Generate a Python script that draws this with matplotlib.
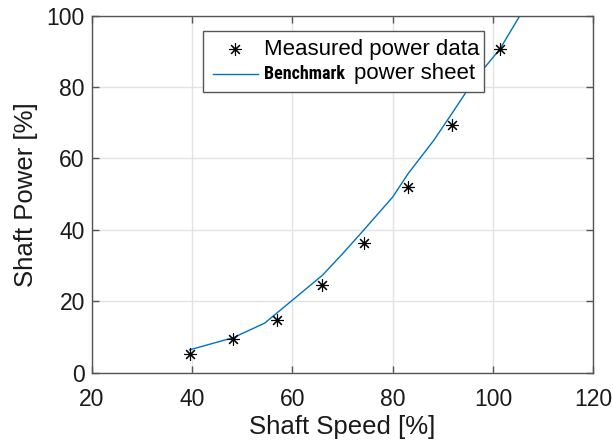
import matplotlib
matplotlib.use('Agg')
import matplotlib.pyplot as plt
from matplotlib import font_manager
from matplotlib.lines import Line2D
from matplotlib.offsetbox import AnchoredOffsetbox, DrawingArea, TextArea, HPacker, VPacker

# measured points
meas_speed = [39.5, 48.2, 56.9, 66.0, 74.2, 83.1, 91.9, 101.4]
meas_power = [5.3, 9.3, 14.9, 24.7, 36.3, 51.9, 69.5, 90.7]

# benchmark power sheet curve
bench_speed = [39.5, 48.2, 54.5, 60.0, 66.0, 70.0, 74.2, 80.0, 83.1, 88.2, 92.0, 96.0, 101.4, 106.0]
bench_power = [6.4, 9.8, 13.9, 20.3, 27.3, 33.3, 39.9, 49.2, 55.8, 65.1, 73.0, 81.5, 90.7, 101.5]

x_ticks = [20, 40, 60, 80, 100, 120]
y_ticks = [0, 20, 40, 60, 80, 100]

MARKER = (8, 2, 0)
LINE_COLOR = '#0072BD'
EDGE = '#555555'

# pick a narrow face for the pasted "Benchmark" word if one is there
installed = set(f.name for f in font_manager.fontManager.ttflist)
narrow, narrow_size = 'Liberation Sans', 11.2
for name in ['Liberation Sans Narrow', 'Roboto Condensed', 'DejaVu Sans Condensed', 'Open Sans Condensed']:
    if name in installed:
        narrow, narrow_size = name, 13
        break

plt.rcParams['font.family'] = ['Liberation Sans', 'DejaVu Sans']

fig = plt.figure(figsize=(6.13, 4.42), dpi=100)
ax = fig.add_axes([0.1496, 0.1568, 0.8183, 0.8077])

ax.plot(meas_speed, meas_power, linestyle='none', marker=MARKER, markersize=9,
        markeredgewidth=0.8, color='black', zorder=3)
ax.plot(bench_speed, bench_power, color=LINE_COLOR, linewidth=1.0, zorder=2)

ax.set_xlim(20, 120)
ax.set_ylim(0, 100)
ax.set_xticks(x_ticks)
ax.set_yticks(y_ticks)
ax.grid(True, color='#e3e3e3', linewidth=1.0)
ax.set_axisbelow(True)

for s in ax.spines.values():
    s.set_color(EDGE)
    s.set_linewidth(1.0)
ax.tick_params(direction='in', length=5, width=1.0, color=EDGE,
               top=True, right=True, labelsize=16.5, labelcolor='#1a1a1a')
ax.tick_params(axis='x', pad=11)
ax.tick_params(axis='y', pad=5)

ax.set_xlabel('Shaft Speed [%]', fontsize=18.5, color='#1a1a1a', labelpad=3)
ax.set_ylabel('Shaft Power [%]', fontsize=18.5, color='#1a1a1a', labelpad=6)

## legend built by hand so "Benchmark" can keep its own narrow bold face
# DrawingArea units are points: 3.6pt left margin + 32.4pt handle
da1 = DrawingArea(36, 12)
da1.add_artist(Line2D([19.8], [6], marker=MARKER, markersize=9, markeredgewidth=0.8,
                      color='black', linestyle='none'))
da2 = DrawingArea(36, 12)
da2.add_artist(Line2D([3.6, 36], [6, 6], color=LINE_COLOR, linewidth=1.0))

t1 = TextArea('Measured power data', textprops=dict(fontsize=16, color='black'))
t2a = TextArea('Benchmark', textprops=dict(family=narrow, fontweight='bold',
                                           fontsize=narrow_size, color='black'))
t2b = TextArea('power sheet', textprops=dict(fontsize=16, color='black'))

row1 = HPacker(children=[da1, t1], pad=0, sep=4.3, align='center')
row2 = HPacker(children=[da2, HPacker(children=[t2a, t2b], pad=0, sep=7, align='center')],
               pad=0, sep=4.3, align='center')
# empty areas top and bottom give a little extra vertical room
rows = VPacker(children=[DrawingArea(0, 0), row1, row2, DrawingArea(0, 0)],
               pad=0, sep=2.5, align='left')

box = AnchoredOffsetbox(loc='upper left', child=rows, pad=0.2, borderpad=0,
                        bbox_to_anchor=(0.2225, 0.957), bbox_transform=ax.transAxes,
                        frameon=True, prop=dict(size=16))
box.patch.set_boxstyle('square', pad=0)
box.patch.set_edgecolor(EDGE)
box.patch.set_facecolor('white')
box.patch.set_linewidth(1.0)
box.set_zorder(5)
ax.add_artist(box)

fig.savefig('out.png', dpi=100)
